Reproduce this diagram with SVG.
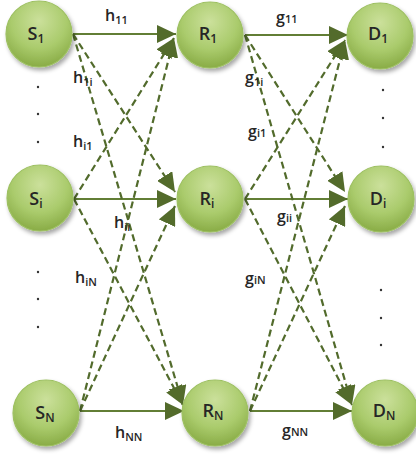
<svg xmlns="http://www.w3.org/2000/svg" width="416" height="455" viewBox="0 0 416 455">
<defs>
<radialGradient id="ball" cx="50%" cy="30%" r="70%">
<stop offset="0" stop-color="#cbe09b"/>
<stop offset="0.6" stop-color="#aacb6c"/>
<stop offset="1" stop-color="#89ac46"/>
</radialGradient>
<filter id="sh" x="-20%" y="-20%" width="150%" height="150%">
<feDropShadow dx="2" dy="3" stdDeviation="2" flood-color="#000" flood-opacity="0.35"/>
</filter>
<marker id="ah" markerUnits="userSpaceOnUse" markerWidth="19" markerHeight="18" refX="19" refY="9" orient="auto">
<path d="M0,0 L19,9 L0,18 z" fill="#536b2b"/>
</marker>
</defs>
<style>
.node circle{fill:url(#ball);stroke:#9dc061;stroke-width:1.2;filter:url(#sh)}
.nl{font-family:"Open Sans","Liberation Sans",sans-serif;font-weight:600;font-size:18px;fill:#262626;text-anchor:middle}
.nl tspan{font-size:12px}
.el{font-family:"Open Sans","Liberation Sans",sans-serif;font-weight:600;font-size:16px;fill:#262626}
.el tspan{font-size:11px}
.solid{stroke:#627e35;stroke-width:2.2;fill:none;marker-end:url(#ah)}
.dash{stroke:#526b2c;stroke-width:2.2;stroke-dasharray:7,4;fill:none;marker-end:url(#ah)}
.dot{fill:#333}
</style>
<rect width="416" height="455" fill="#fff"/>
<g id="connectors">
<line class="solid" x1="73" y1="34" x2="176" y2="34"/>
<line class="solid" x1="74" y1="199" x2="176" y2="199"/>
<line class="solid" x1="80" y1="411" x2="184" y2="411"/>
<line class="dash" x1="73" y1="34" x2="175" y2="192"/>
<line class="dash" x1="73" y1="34" x2="183" y2="405"/>
<line class="dash" x1="74" y1="199" x2="174" y2="38"/>
<line class="dash" x1="74" y1="199" x2="183" y2="405"/>
<line class="dash" x1="80" y1="411" x2="174" y2="38"/>
<line class="dash" x1="80" y1="411" x2="175" y2="206"/>
<line class="solid" x1="245" y1="35" x2="348" y2="35"/>
<line class="solid" x1="245" y1="199" x2="348" y2="199"/>
<line class="solid" x1="250" y1="411" x2="352" y2="411"/>
<line class="dash" x1="245" y1="35" x2="345" y2="192"/>
<line class="dash" x1="245" y1="35" x2="352" y2="405"/>
<line class="dash" x1="245" y1="199" x2="345" y2="40"/>
<line class="dash" x1="245" y1="199" x2="352" y2="405"/>
<line class="dash" x1="250" y1="411" x2="345" y2="40"/>
<line class="dash" x1="250" y1="411" x2="345" y2="206"/>
</g>
<g id="S1" class="node"><circle cx="39" cy="34" r="33"/><text class="nl" x="36" y="40">S<tspan dy="3">1</tspan></text></g>
<g id="Si" class="node"><circle cx="40" cy="198" r="33"/><text class="nl" x="36" y="205">S<tspan dy="3">i</tspan></text></g>
<g id="SN" class="node"><circle cx="46" cy="413" r="33"/><text class="nl" x="45" y="419">S<tspan dy="3">N</tspan></text></g>
<g id="R1" class="node"><circle cx="210" cy="35" r="33"/><text class="nl" x="208" y="40">R<tspan dy="3">1</tspan></text></g>
<g id="Ri" class="node"><circle cx="210" cy="199" r="33"/><text class="nl" x="207" y="205">R<tspan dy="3">i</tspan></text></g>
<g id="RN" class="node"><circle cx="215" cy="413" r="33"/><text class="nl" x="213" y="417">R<tspan dy="3">N</tspan></text></g>
<g id="D1" class="node"><circle cx="380" cy="36" r="33"/><text class="nl" x="378" y="40">D<tspan dy="3">1</tspan></text></g>
<g id="Di" class="node"><circle cx="381" cy="199" r="33"/><text class="nl" x="378" y="205">D<tspan dy="3">i</tspan></text></g>
<g id="DN" class="node"><circle cx="385" cy="413" r="33"/><text class="nl" x="384" y="417">D<tspan dy="3">N</tspan></text></g>
<g id="labels">
<text class="el" x="105" y="21">h<tspan dy="3">11</tspan></text>
<text class="el" x="73" y="83">h<tspan dy="3">1i</tspan></text>
<text class="el" x="73" y="147">h<tspan dy="3">i1</tspan></text>
<text class="el" x="114" y="228">h<tspan dy="3">ii</tspan></text>
<text class="el" x="75" y="283">h<tspan dy="3">iN</tspan></text>
<text class="el" x="115" y="438">h<tspan dy="3">NN</tspan></text>
<text class="el" x="276" y="23">g<tspan>11</tspan></text>
<text class="el" x="245" y="83">g<tspan dy="3">1i</tspan></text>
<text class="el" x="248" y="137">g<tspan>i1</tspan></text>
<text class="el" x="277" y="222">g<tspan>ii</tspan></text>
<text class="el" x="245" y="284">g<tspan>iN</tspan></text>
<text class="el" x="282" y="436">g<tspan>NN</tspan></text>
</g>
<g id="dots">
<circle class="dot" cx="38" cy="87" r="1.2"/>
<circle class="dot" cx="38" cy="114" r="1.2"/>
<circle class="dot" cx="38" cy="142" r="1.2"/>
<circle class="dot" cx="38" cy="272" r="1.2"/>
<circle class="dot" cx="38" cy="299" r="1.2"/>
<circle class="dot" cx="38" cy="327" r="1.2"/>
<circle class="dot" cx="383" cy="90" r="1.2"/>
<circle class="dot" cx="383" cy="118" r="1.2"/>
<circle class="dot" cx="383" cy="147" r="1.2"/>
<circle class="dot" cx="381" cy="290" r="1.2"/>
<circle class="dot" cx="381" cy="318" r="1.2"/>
<circle class="dot" cx="381" cy="345" r="1.2"/>
</g>
</svg>
